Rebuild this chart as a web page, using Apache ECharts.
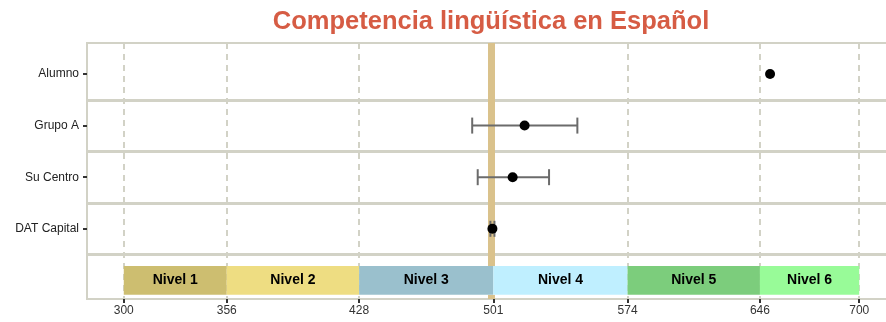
<!DOCTYPE html>
<html>
<head>
<meta charset="utf-8">
<script src="https://cdn.jsdelivr.net/npm/echarts@6/dist/echarts.min.js"></script>
<style>html,body{margin:0;padding:0;background:#fff}#c{width:886px;height:322px}</style>
</head>
<body>
<div id="c"></div>
<script>
// ---- data ----
var categories = ['Alumno', 'Grupo A', 'Su Centro', 'DAT Capital'];
var pointValues = [651.5, 518, 511.5, 500.5];
var errLow = [null, 489.5, 492.5, 499.4];
var errHigh = [null, 546.7, 531.3, 501.6];
var xTicks = [300, 356, 428, 501, 574, 646, 700];
var levelStarts = [300, 356, 428, 501, 574, 646];
var levelEnds = [356, 428, 501, 574, 646, 700];
var levelNames = ['Nivel 1', 'Nivel 2', 'Nivel 3', 'Nivel 4', 'Nivel 5', 'Nivel 6'];
var levelColors = ['#CDBE70', '#EEDD82', '#9AC0CD', '#BFEFFF', '#7CCD7C', '#98FB98'];
var referenceValue = 500;
var bandRow = 4;
var bandHalf = 0.28;
var separators = [0.5, 1.5, 2.5, 3.5];

var FONT = 'Liberation Sans, Arial, sans-serif';
var GRID_COLOR = '#d2d2c6';

var chart = echarts.init(document.getElementById('c'));

var pointData = pointValues.map(function (v, i) { return [v, i]; });
var errData = [];
categories.forEach(function (c, i) {
  if (errLow[i] != null) errData.push([errLow[i], errHigh[i], i]);
});
var bandData = levelStarts.map(function (s, i) { return [s, levelEnds[i], bandRow, levelNames[i], levelColors[i]]; });

chart.setOption({
  animation: false,
  backgroundColor: '#fff',
  title: {
    text: 'Competencia lingüística en Español',
    left: 486, top: 4, textAlign: 'center',
    textStyle: { color: '#d65c44', fontSize: 25.5, fontWeight: 'bold', fontFamily: FONT }
  },
  grid: {
    left: 87, top: 43, width: 809, height: 256,
    outerBoundsMode: 'none', containLabel: false,
    show: true, borderColor: GRID_COLOR, borderWidth: 2, backgroundColor: '#fff'
  },
  xAxis: {
    type: 'value', min: 280, max: 720,
    axisLine: { show: false, onZero: false },
    splitLine: { show: false },
    axisTick: { show: true, customValues: xTicks, length: 4, lineStyle: { color: '#333', width: 2 } },
    axisLabel: { customValues: xTicks, color: '#333', fontSize: 12, fontFamily: FONT, margin: 6 }
  },
  yAxis: {
    type: 'value', inverse: true, min: -0.6, max: 4.36,
    axisLine: { show: false, onZero: false },
    splitLine: { show: false },
    axisTick: { show: true, customValues: [0, 1, 2, 3], length: 4, lineStyle: { color: '#333', width: 2 } },
    axisLabel: {
      customValues: [0, 1, 2, 3], color: '#222', fontSize: 12, fontFamily: FONT, margin: 8,
      formatter: function (v) { return categories[Math.round(v)] || ''; }
    }
  },
  series: [
    {
      type: 'scatter', data: [], silent: true, z: 1,
      markLine: {
        silent: true, symbol: 'none', label: { show: false }, z: 1,
        lineStyle: { color: GRID_COLOR, width: 2, type: [6, 5] },
        data: xTicks.filter(function (t) { return Math.abs(t - referenceValue) > 3; })
                    .map(function (t) { return { xAxis: t }; })
      }
    },
    {
      type: 'scatter', data: [], silent: true, z: 2,
      markLine: {
        silent: true, symbol: 'none', label: { show: false }, z: 2,
        lineStyle: { color: GRID_COLOR, width: 3, type: 'solid' },
        data: separators.map(function (s) { return { yAxis: s }; })
      }
    },
    {
      type: 'custom', z: 10, silent: true,
      data: [[referenceValue]],
      renderItem: function (params, api) {
        var cs = params.coordSys;
        var top = api.coord([api.value(0), bandRow - bandHalf]);
        var bot = api.coord([api.value(0), bandRow + bandHalf]);
        var x = top[0] - 3.5;
        var st = { fill: '#dac28c' };
        return {
          type: 'group',
          children: [
            { type: 'rect', shape: { x: x, y: cs.y, width: 7, height: top[1] - cs.y }, style: st },
            { type: 'rect', shape: { x: x, y: bot[1], width: 7, height: cs.y + cs.height - bot[1] }, style: st }
          ]
        };
      }
    },
    {
      type: 'custom', zlevel: 1, z: 20, silent: true,
      data: bandData,
      renderItem: function (params, api) {
        var p0 = api.coord([api.value(0), api.value(2) - bandHalf]);
        var p1 = api.coord([api.value(1), api.value(2) + bandHalf]);
        return {
          type: 'rect',
          shape: { x: p0[0], y: p0[1], width: p1[0] - p0[0], height: p1[1] - p0[1] },
          style: {
            fill: bandData[params.dataIndex][4],
            text: bandData[params.dataIndex][3],
            textFill: '#000', fontSize: 14, fontWeight: 'bold', fontFamily: FONT, textPosition: 'inside'
          }
        };
      }
    },
    {
      type: 'custom', zlevel: 1, z: 21, silent: true,
      data: errData,
      renderItem: function (params, api) {
        var a = api.coord([api.value(0), api.value(2)]);
        var b = api.coord([api.value(1), api.value(2)]);
        var cap = 8;
        var st = { stroke: '#6b6b6b', lineWidth: 2 };
        return {
          type: 'group',
          children: [
            { type: 'line', shape: { x1: a[0], y1: a[1], x2: b[0], y2: b[1] }, style: st },
            { type: 'line', shape: { x1: a[0], y1: a[1] - cap, x2: a[0], y2: a[1] + cap }, style: st },
            { type: 'line', shape: { x1: b[0], y1: b[1] - cap, x2: b[0], y2: b[1] + cap }, style: st }
          ]
        };
      }
    },
    {
      type: 'scatter', zlevel: 1, z: 22, silent: true,
      data: pointData, symbol: 'circle', symbolSize: 10,
      itemStyle: { color: '#000', opacity: 1 }
    }
  ]
});
</script>
</body>
</html>
